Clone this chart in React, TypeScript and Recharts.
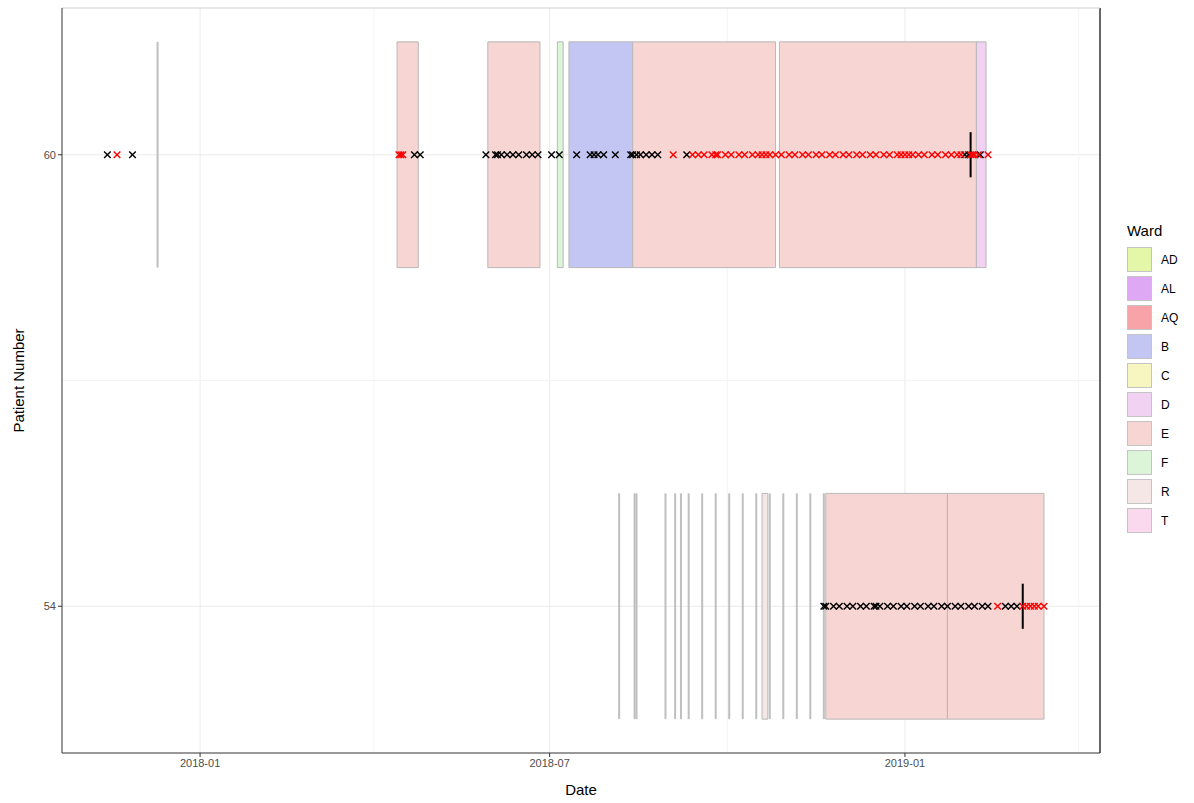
import React from "react";
import {
  CartesianGrid,
  ComposedChart,
  ReferenceArea,
  ReferenceLine,
  Scatter,
  XAxis,
  YAxis,
} from "recharts";

// ward palette, in legend order
const wards = ["AD", "AL", "AQ", "B", "C", "D", "E", "F", "R", "T"];
const wardColors = [
  "#e4f7a8", "#dea8f5", "#f8a3a8", "#c3c6f3", "#f7f5c0",
  "#f1d2f3", "#f6d5d3", "#dcf4d8", "#f4e7e5", "#fad9ee",
];

const patients = [60, 54];

// ward stays [ward, from, to]
const stays60: [string, string, string][] = [
  ["E", "2018-04-13", "2018-04-24"],
  ["E", "2018-05-30", "2018-06-26"],
  ["F", "2018-07-05", "2018-07-08"],
  ["B", "2018-07-11", "2018-08-13"],
  ["E", "2018-08-13", "2018-10-26"],
  ["E", "2018-10-28", "2019-02-07"],
  ["D", "2019-02-07", "2019-02-12"],
];
const stays54: [string, string, string][] = [
  ["R", "2018-10-19", "2018-10-22"],
  ["E", "2018-11-21", "2019-01-23"],
  ["E", "2019-01-23", "2019-03-14"],
];

// same-day stays (drawn as a bare outline)
const dayStays60 = ["2017-12-10"];
const dayStays54 = [
  "2018-08-06", "2018-08-14", "2018-08-15", "2018-08-30", "2018-09-04",
  "2018-09-07", "2018-09-11", "2018-09-18", "2018-09-25", "2018-10-02",
  "2018-10-09", "2018-10-16", "2018-10-23", "2018-10-30", "2018-11-06",
  "2018-11-13", "2018-11-20",
];

// samples: negative (black) / positive (red)
const neg60 = [
  "2017-11-14", "2017-11-27", "2018-04-22", "2018-04-25", "2018-05-29",
  "2018-06-03", "2018-06-04", "2018-06-06", "2018-06-09", "2018-06-12",
  "2018-06-15", "2018-06-19", "2018-06-22", "2018-06-25", "2018-07-02",
  "2018-07-06", "2018-07-15", "2018-07-22", "2018-07-24", "2018-07-26",
  "2018-07-29", "2018-08-04", "2018-08-12", "2018-08-13", "2018-08-15",
  "2018-08-17", "2018-08-20", "2018-08-23", "2018-08-26", "2018-09-10",
  "2019-02-01", "2019-02-03", "2019-02-09",
];
const pos60 = [
  "2017-11-19", "2018-04-14", "2018-04-15", "2018-04-16", "2018-09-03",
  "2018-09-13", "2018-09-16", "2018-09-19", "2018-09-23", "2018-09-25",
  "2018-09-26", "2018-09-30", "2018-10-03", "2018-10-07", "2018-10-10",
  "2018-10-14", "2018-10-17", "2018-10-19", "2018-10-21", "2018-10-23",
  "2018-10-26", "2018-10-29", "2018-11-02", "2018-11-05", "2018-11-09",
  "2018-11-12", "2018-11-16", "2018-11-19", "2018-11-23", "2018-11-26",
  "2018-11-30", "2018-12-03", "2018-12-07", "2018-12-10", "2018-12-14",
  "2018-12-17", "2018-12-21", "2018-12-24", "2018-12-28", "2018-12-30",
  "2019-01-01", "2019-01-03", "2019-01-05", "2019-01-08", "2019-01-11",
  "2019-01-15", "2019-01-18", "2019-01-22", "2019-01-25", "2019-01-28",
  "2019-01-30", "2019-02-04", "2019-02-05", "2019-02-06", "2019-02-08",
  "2019-02-13",
];
const neg54 = [
  "2018-11-20", "2018-11-21", "2018-11-25", "2018-11-28", "2018-12-02",
  "2018-12-05", "2018-12-09", "2018-12-12", "2018-12-16", "2018-12-17",
  "2018-12-19", "2018-12-23", "2018-12-26", "2018-12-30", "2019-01-02",
  "2019-01-06", "2019-01-09", "2019-01-13", "2019-01-16", "2019-01-20",
  "2019-01-23", "2019-01-27", "2019-01-30", "2019-02-03", "2019-02-06",
  "2019-02-10", "2019-02-13", "2019-02-22", "2019-02-25", "2019-02-28",
];
const pos54 = [
  "2019-02-18", "2019-03-03", "2019-03-05", "2019-03-07", "2019-03-09",
  "2019-03-11", "2019-03-14",
];

// first-positive marker per patient
const markers = ["2019-02-04", "2019-03-03"];

const xMajor = ["2018-01-01", "2018-07-01", "2019-01-01"];
const xMinor = ["2018-04-01", "2018-10-01", "2019-04-01"];
const yMajor = [54, 60];
const yMinor = [57];

const DAY = 86400000;
const ms = (s: string) => Date.parse(s + "T00:00:00Z");
const xDomain = [ms("2018-01-01") - 71.5 * DAY, ms("2019-01-01") + 101 * DAY];
const yDomain = [52.05, 61.95];

const pts = (dates: string[], y: number) => dates.map((d) => ({ t: ms(d), y }));

const cross = (color: string) => (props: any) => {
  const { cx, cy } = props;
  const r = 3.3;
  return (
    <path
      d={`M${cx - r},${cy - r}L${cx + r},${cy + r}M${cx - r},${cy + r}L${cx + r},${cy - r}`}
      stroke={color}
      strokeWidth={1.4}
      fill="none"
    />
  );
};

const fmt = (t: number) => {
  const d = new Date(t);
  return `${d.getUTCFullYear()}-${String(d.getUTCMonth() + 1).padStart(2, "0")}`;
};

const font = "'Liberation Sans', Arial, sans-serif";

function WardLegend() {
  return (
    <div
      style={{
        position: "absolute",
        left: 1127,
        top: 222,
        fontFamily: font,
        color: "#000",
      }}
    >
      <div style={{ fontSize: 15, marginBottom: 6 }}>Ward</div>
      {wards.map((w, i) => (
        <div key={w} style={{ display: "flex", alignItems: "center", height: 29 }}>
          <div
            style={{
              width: 25,
              height: 25,
              background: wardColors[i],
              border: "1px solid #c4c4c4",
              boxSizing: "border-box",
            }}
          />
          <span style={{ fontSize: 12, marginLeft: 9 }}>{w}</span>
        </div>
      ))}
    </div>
  );
}

export default function App() {
  const stayGroups = [stays60, stays54];
  const dayGroups = [dayStays60, dayStays54];
  return (
    <div style={{ position: "absolute", left: 0, top: 0, width: 1194, height: 803, background: "#fff" }}>
      <ComposedChart
        width={1194}
        height={803}
        margin={{ top: 8, right: 94, left: 0, bottom: 0 }}
      >
        <CartesianGrid
          stroke="#ebebeb"
          verticalValues={xMajor.map(ms)}
          horizontalValues={yMajor}
        />
        <CartesianGrid
          stroke="#f4f4f4"
          verticalValues={xMinor.map(ms)}
          horizontalValues={yMinor}
        />
        <XAxis
          type="number"
          dataKey="t"
          domain={xDomain}
          allowDataOverflow
          ticks={xMajor.map(ms)}
          tickFormatter={fmt}
          height={50}
          stroke="#333"
          tickSize={4}
          tick={{ fontSize: 11, fill: "#4d4d4d", fontFamily: font }}
          label={{
            content: ({ viewBox }: any) => (
              <text
                x={viewBox.x + viewBox.width / 2}
                y={795}
                textAnchor="middle"
                fontSize={15}
                fontFamily={font}
                fill="#000"
              >
                Date
              </text>
            ),
          }}
        />
        <YAxis
          type="number"
          dataKey="y"
          domain={yDomain}
          allowDataOverflow
          ticks={yMajor}
          width={62}
          stroke="#333"
          tickSize={4}
          tick={{ fontSize: 11, fill: "#4d4d4d", fontFamily: font }}
          label={{
            content: ({ viewBox }: any) => {
              const cx = 20;
              const cy = viewBox.y + viewBox.height / 2;
              return (
                <text
                  x={cx}
                  y={cy}
                  transform={`rotate(-90, ${cx}, ${cy})`}
                  textAnchor="middle"
                  dominantBaseline="middle"
                  fontSize={15}
                  fontFamily={font}
                  fill="#000"
                >
                  Patient Number
                </text>
              );
            },
          }}
        />
        {patients.map((p, pi) =>
          stayGroups[pi].map(([w, from, to], i) => (
            <ReferenceArea
              key={`s${p}-${i}`}
              x1={ms(from)}
              x2={ms(to)}
              y1={p - 1.5}
              y2={p + 1.5}
              fill={wardColors[wards.indexOf(w)]}
              fillOpacity={1}
              stroke="#b8b8b8"
              strokeWidth={1}
            />
          ))
        )}
        {patients.map((p, pi) =>
          dayGroups[pi].map((d, i) => (
            <ReferenceLine
              key={`d${p}-${i}`}
              segment={[
                { x: ms(d), y: p - 1.5 },
                { x: ms(d), y: p + 1.5 },
              ]}
              stroke="#bfbfbf"
              strokeWidth={2}
            />
          ))
        )}
        <ReferenceLine x={xDomain[1]} stroke="#333" strokeWidth={1.5} />
        <ReferenceLine y={yDomain[1]} stroke="#cfcfcf" strokeWidth={1} />
        <Scatter data={pts(neg60, 60)} dataKey="y" shape={cross("#000")} isAnimationActive={false} />
        <Scatter data={pts(pos60, 60)} dataKey="y" shape={cross("#ff0000")} isAnimationActive={false} />
        <Scatter data={pts(neg54, 54)} dataKey="y" shape={cross("#000")} isAnimationActive={false} />
        <Scatter data={pts(pos54, 54)} dataKey="y" shape={cross("#ff0000")} isAnimationActive={false} />
        {patients.map((p, pi) => (
          <ReferenceLine
            key={`m${p}`}
            segment={[
              { x: ms(markers[pi]), y: p - 0.3 },
              { x: ms(markers[pi]), y: p + 0.3 },
            ]}
            stroke="#000"
            strokeWidth={2}
          />
        ))}
      </ComposedChart>
      <WardLegend />
    </div>
  );
}
